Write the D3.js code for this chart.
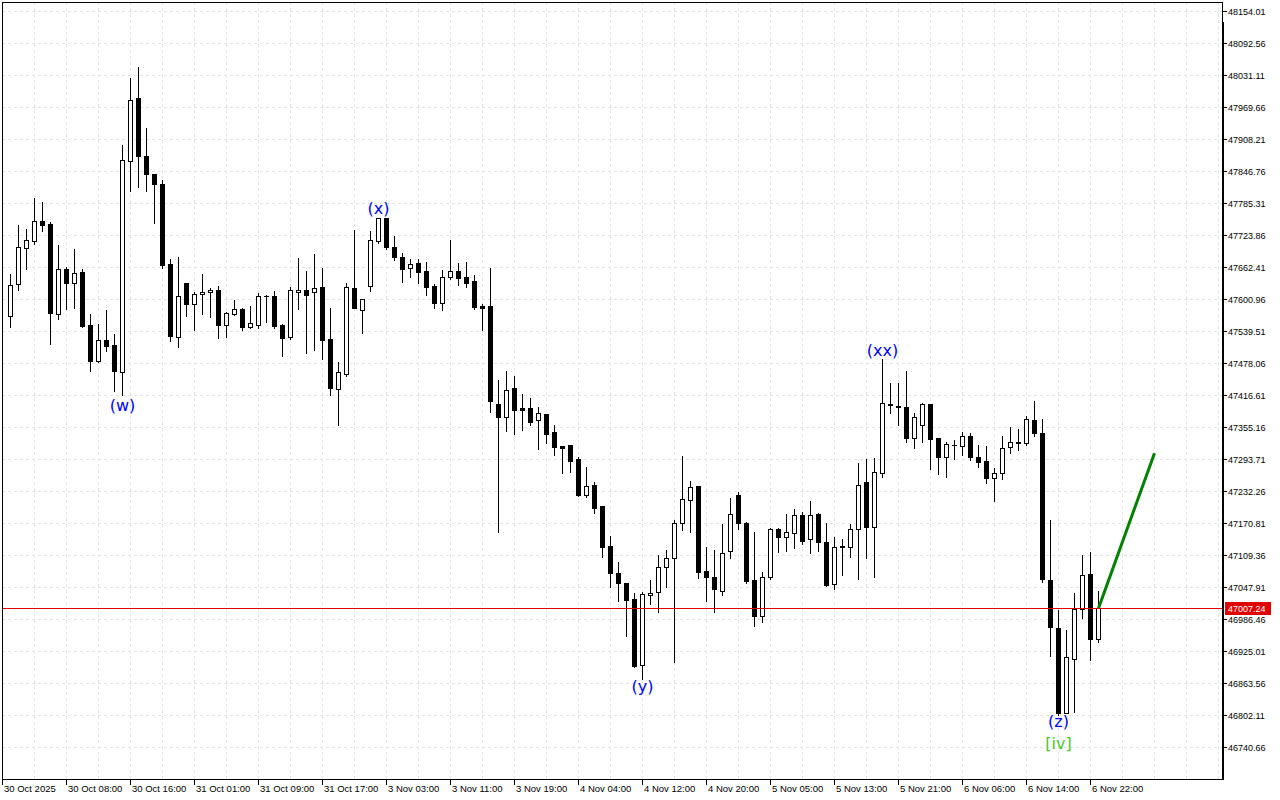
<!DOCTYPE html>
<html><head><meta charset="utf-8">
<script src="https://cdn.jsdelivr.net/npm/d3@7"></script>
<style>html,body{margin:0;padding:0;background:#fff;}svg{display:block;}</style>
</head><body>
<svg id="c" width="1280" height="800"></svg>
<script>
// ---- data (hourly bars, index 0 = 30 Oct 2025 00:00) ----
const opens = [47560,47568.9,47629.2,47699.5,47712.9,47750.2,47745.0,47572.7,47658.0,47632.3,
47652.8,47550.5,47482.5,47521.7,47512.6,47461.3,47865.4,47986.4,47875.9,47841.3,
47822.1,47667.6,47528.6,47631.1,47591.9,47610.6,47614.4,47618.2,47550.5,47572.2,
47581.8,47547.8,47551.6,47606.0,47606.0,47550.5,47528.6,47614.4,47618.2,47614.4,
47623.4,47523.6,47428.9,47457.5,47621.5,47579.3,47625.3,47712.9,47755.9,47701.4,
47681.0,47659.9,47669.5,47654.2,47625.9,47592.7,47642.6,47654.2,47643.2,47635.5,
47586.9,47586.9,47399.3,47374.9,47429.5,47391.1,47391.6,47368.0,47379.6,47345.0,
47318.3,47320.8,47293.9,47225.4,47243.8,47203.5,47126.6,47074.8,47055.6,47024.9,
46898.5,47032.0,47037.7,47085.8,47103.0,47170.2,47214.4,47241.3,47078.1,47067.1,
47040.8,47116.5,47224.2,47170.8,47061.4,46992.8,47067.7,47159.3,47144.5,47151.0,
47186.2,47139.5,47188.1,47134.3,47053.1,47125.1,47125.1,47158.7,47249.0,47162.5,
47266.5,47399.3,47395.5,47393.0,47333.5,47358.4,47398.8,47333.5,47298.3,47320.2,
47318.3,47337.3,47297.2,47289.9,47258.0,47266.5,47316.2,47325.0,47324.1,47368.6,
47343.1,47060.8,46968.6,46806.5,46910.2,47005.7,47072.9,46947.1];
const highs = [47590,47649.0,47743.1,47735.4,47794.9,47787.2,47748.3,47704.7,47661.8,47697.0,
47658.0,47572.2,47553.0,47579.8,47533.8,47895.9,48025.9,48047.1,47929.3,47841.3,
47829.5,47677.2,47681.6,47631.1,47614.4,47649.0,47622.1,47625.9,47576.0,47599.0,
47584.3,47587.5,47612.5,47608.6,47616.3,47553.0,47623.4,47679.1,47654.7,47687.4,
47659.9,47583.1,47479.4,47631.1,47733.5,47600.4,47731.5,47755.9,47755.9,47721.9,
47688.9,47677.2,47677.2,47671.4,47629.2,47656.1,47714.3,47669.5,47671.4,47646.5,
47591.4,47659.9,47445.4,47462.7,47453.1,47418.0,47410.3,47393.0,47379.6,47359.0,
47318.3,47320.8,47297.2,47278.6,47249.5,47203.5,47144.9,47095.0,47055.6,47036.4,
47037.7,47060.8,47109.4,47119.0,47176.6,47299.7,47250.9,47241.3,47124.1,47119.0,
47168.9,47218.4,47230.0,47172.7,47153.5,47076.1,47161.2,47161.2,47188.1,47197.1,
47191.9,47212.5,47190.0,47170.2,47144.4,47140.5,47169.5,47286.3,47293.9,47295.8,
47485.7,47439.7,47439.7,47462.7,47382.1,47400.7,47398.8,47333.5,47325.8,47330.2,
47345.6,47343.1,47320.8,47318.7,47275.9,47337.9,47355.2,47350.7,47376.3,47405.1,
47370.5,47176.6,47003.7,46965.4,47035.8,47109.4,47114.5,47040.2];
const lows = [47555,47547.8,47618.2,47658.6,47707.2,47732.1,47514.6,47563.1,47581.8,47583.7,
47547.8,47463.3,47480.6,47501.7,47424.3,47416.0,47808.9,47816.6,47808.9,47746.3,
47659.9,47520.9,47509.4,47568.3,47541.4,47572.2,47567.0,47526.7,47528.6,47570.2,
47541.4,47545.3,47545.9,47557.4,47545.9,47492.1,47523.6,47581.2,47496.7,47503.0,
47485.2,47417.4,47359.0,47453.7,47583.1,47536.2,47616.9,47709.1,47697.0,47675.9,
47634.2,47643.8,47632.3,47607.9,47584.3,47579.3,47640.0,47628.4,47624.6,47582.3,
47541.4,47384.5,47154.2,47348.1,47342.3,47349.4,47358.4,47313.7,47325.0,47301.0,
47267.6,47269.5,47223.4,47221.5,47189.4,47106.1,47048.5,47021.6,46954.0,46894.7,
46871.6,47015.3,47000.5,47047.3,46904.3,47158.0,47154.2,47064.6,47021.6,47000.5,
47033.1,47104.2,47159.3,47056.2,46973.6,46981.3,47062.7,47114.8,47117.6,47122.8,
47130.0,47112.6,47117.6,47049.8,47043.5,47070.4,47106.1,47063.9,47104.2,47066.5,
47258.8,47381.5,47359.6,47325.8,47315.4,47326.9,47275.1,47265.5,47259.9,47293.9,
47301.0,47292.6,47278.6,47248.4,47213.6,47255.9,47305.8,47311.0,47320.8,47338.5,
47058.1,46915.4,46802.1,46806.5,46807.9,46987.8,46907.3,46942.5];
const closes = [47570,47627.3,47700.2,47713.7,47750.2,47743.6,47574.7,47658.0,47632.3,47650.3,
47549.1,47482.5,47521.7,47511.3,47463.3,47867.9,47982.5,47875.1,47841.3,47822.1,
47666.8,47529.9,47606.7,47591.9,47610.6,47614.4,47618.2,47551.0,47573.5,47581.2,
47547.8,47554.3,47606.7,47607.0,47549.1,47526.7,47618.2,47618.2,47607.9,47621.5,
47522.8,47430.1,47460.2,47623.4,47583.1,47600.4,47713.7,47755.9,47701.4,47681.0,
47659.2,47667.6,47653.4,47624.6,47592.7,47642.6,47654.2,47641.9,47632.3,47586.2,
47584.3,47405.7,47374.9,47427.0,47388.4,47388.4,47365.3,47381.5,47341.1,47317.5,
47315.6,47290.6,47224.8,47241.5,47200.2,47125.3,47075.4,47056.2,47023.5,46896.6,
47033.9,47036.4,47085.8,47103.0,47170.2,47216.5,47240.5,47077.3,47067.7,47043.5,
47112.6,47187.7,47171.4,47060.0,46992.8,47067.1,47159.3,47143.6,47153.0,47186.2,
47136.8,47186.2,47133.7,47052.3,47125.1,47127.1,47158.7,47243.2,47162.5,47268.4,
47400.7,47397.4,47393.0,47334.6,47373.8,47398.8,47332.7,47298.3,47322.7,47321.4,
47337.3,47298.3,47288.5,47258.0,47266.5,47314.3,47325.8,47326.4,47370.0,47343.1,
47063.3,46971.7,46805.4,46912.9,47005.7,47071.0,46948.2,47007.24];

const timeLabels = ["30 Oct 2025","30 Oct 08:00","30 Oct 16:00","31 Oct 01:00","31 Oct 09:00",
"31 Oct 17:00","3 Nov 03:00","3 Nov 11:00","3 Nov 19:00","4 Nov 04:00","4 Nov 12:00",
"4 Nov 20:00","5 Nov 05:00","5 Nov 13:00","5 Nov 21:00","6 Nov 06:00","6 Nov 14:00","6 Nov 22:00"];
const timeLabelBars = [0,8,16,24,32,40,48,56,64,72,80,88,96,104,112,120,128,136];

const priceTicks = [48154.01,48092.56,48031.11,47969.66,47908.21,47846.76,47785.31,47723.86,
47662.41,47600.96,47539.51,47478.06,47416.61,47355.16,47293.71,47232.26,47170.81,47109.36,
47047.91,46986.46,46925.01,46863.56,46802.11,46740.66];

const lastPrice = 47007.24;

const waveText  = ["(w)","(x)","(y)","(xx)","(z)","[iv]"];
const waveBar   = [15, 47, 80, 110, 132, 132];
const wavePrice = [47397.4, 47775.7, 46855.9, 47503.0, 46788.7, 46748.3];
const waveColor = ["#0000ff","#0000ff","#0000ff","#0000ff","#0000ff","#4cc72e"];

const projBars   = [137, 144];
const projPrices = [47007.24, 47304.9];

// ---- layout ----
const L = 2, R = 1222, T = 2, B = 779;
const svg = d3.select("#c");
const x = d3.scaleLinear().domain([0, 152.5]).range([L, R]);
const y = d3.scaleLinear().domain([46740.66, 48154.01]).range([747, 11]);

svg.append("rect").attr("width",1280).attr("height",800).attr("fill","#fff");

svg.append("defs").append("clipPath").attr("id","clip")
  .append("rect").attr("x",L+3).attr("y",T+1).attr("width",R-L-3).attr("height",B-T-1);

// grid
const grid = svg.append("g").attr("shape-rendering","crispEdges");
grid.selectAll("line.h").data(priceTicks).join("line")
  .attr("x1",L).attr("x2",R)
  .attr("y1",d=>Math.round(y(d))+0.5).attr("y2",d=>Math.round(y(d))+0.5)
  .attr("stroke","#e3e3e3").attr("stroke-dasharray","3,3");
grid.selectAll("line.v").data(d3.range(4, 153, 4)).join("line")
  .attr("y1",T).attr("y2",B)
  .attr("x1",d=>Math.round(x(d))+0.5).attr("x2",d=>Math.round(x(d))+0.5)
  .attr("stroke","#e3e3e3").attr("stroke-dasharray","3,3");

const plot = svg.append("g").attr("clip-path","url(#clip)");

// current price line
svg.append("line").attr("x1",L).attr("x2",R)
  .attr("y1",Math.round(y(lastPrice))+0.5).attr("y2",Math.round(y(lastPrice))+0.5)
  .attr("stroke","#e00000").attr("stroke-width",1).attr("shape-rendering","crispEdges");

// candles
const bars = d3.range(opens.length);
const cg = plot.append("g").attr("shape-rendering","crispEdges");
cg.selectAll("line.w").data(bars).join("line")
  .attr("x1",i=>Math.round(x(i))+0.5).attr("x2",i=>Math.round(x(i))+0.5)
  .attr("y1",i=>Math.round(y(highs[i]))).attr("y2",i=>Math.round(y(lows[i]))+1)
  .attr("stroke","#000");
cg.selectAll("rect.b").data(bars).join("rect")
  .attr("x",i=>Math.round(x(i))-2+0.5)
  .attr("y",i=>Math.round(y(Math.max(opens[i],closes[i])))+0.5)
  .attr("width",4)
  .attr("height",i=>Math.max(0.01, Math.round(y(Math.min(opens[i],closes[i]))) - Math.round(y(Math.max(opens[i],closes[i])))))
  .attr("fill",i=>closes[i]>=opens[i]?"#fff":"#000")
  .attr("stroke","#000");

// projection line
plot.append("path")
  .datum(projBars.map((b,k)=>[b,projPrices[k]]))
  .attr("d", d3.line().x(d=>x(d[0])+0.5).y(d=>y(d[1])))
  .attr("fill","none").attr("stroke","#008000").attr("stroke-width",3);

// wave labels
svg.append("g").selectAll("text").data(waveText).join("text")
  .attr("x",(d,k)=>x(waveBar[k])+0.5)
  .attr("y",(d,k)=>y(wavePrice[k]))
  .attr("text-anchor","middle").attr("dominant-baseline","central")
  .attr("font-family","DejaVu Sans").attr("font-size",16)
  .attr("fill",(d,k)=>waveColor[k]).text(d=>d);

// frame
const fr = svg.append("g").attr("shape-rendering","crispEdges");
fr.append("rect").attr("x",L+0.5).attr("y",T+0.5).attr("width",R-L).attr("height",B-T)
  .attr("fill","none").attr("stroke","#000");
fr.append("rect").attr("x",R-0.5).attr("y",22).attr("width",2).attr("height",B-22+1).attr("fill","#000");

// right axis
const ra = svg.append("g");
ra.selectAll("line").data(priceTicks).join("line")
  .attr("x1",R).attr("x2",R+5)
  .attr("y1",d=>Math.round(y(d))+0.5).attr("y2",d=>Math.round(y(d))+0.5)
  .attr("stroke","#000").attr("shape-rendering","crispEdges");
ra.selectAll("text").data(priceTicks).join("text")
  .attr("x",R+6).attr("y",d=>Math.round(y(d))+0.5)
  .attr("dominant-baseline","central")
  .attr("font-family","Liberation Sans, Arial, sans-serif").attr("font-size",9)
  .attr("fill","#000").text(d=>d.toFixed(2));

// last price tag
const ly = Math.round(y(lastPrice));
ra.append("rect").attr("x",R+3).attr("y",ly-6).attr("width",46).attr("height",13)
  .attr("fill","#e00000").attr("shape-rendering","crispEdges");
ra.append("text").attr("x",R+6).attr("y",ly+0.5).attr("dominant-baseline","central")
  .attr("font-family","Liberation Sans, Arial, sans-serif").attr("font-size",9)
  .attr("fill","#fff").text(lastPrice.toFixed(2));

// bottom axis
const ba = svg.append("g");
ba.selectAll("line").data(timeLabelBars).join("line")
  .attr("x1",b=>Math.round(x(b))+0.5).attr("x2",b=>Math.round(x(b))+0.5)
  .attr("y1",B).attr("y2",B+6)
  .attr("stroke","#000").attr("shape-rendering","crispEdges");
ba.selectAll("text").data(timeLabels).join("text")
  .attr("x",(d,k)=>Math.round(x(timeLabelBars[k]))+2)
  .attr("y",792)
  .attr("font-family","Liberation Sans, Arial, sans-serif").attr("font-size",9.5)
  .attr("fill","#000").text(d=>d);
</script>
</body></html>
